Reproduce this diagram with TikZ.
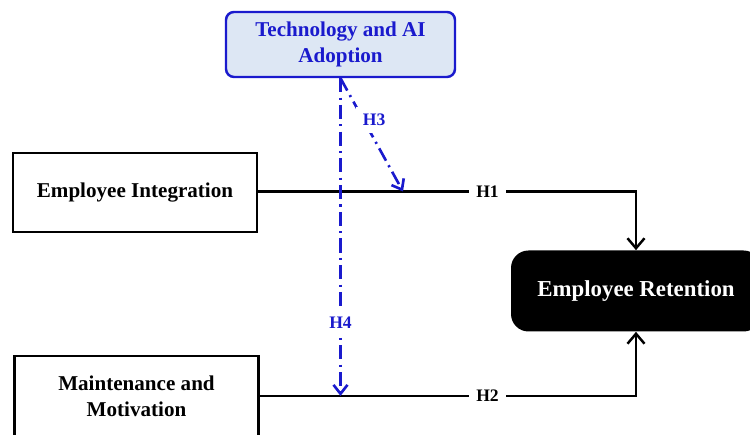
\documentclass[tikz,border=0pt]{standalone}
\usepackage{fontspec}
\setmainfont{Liberation Serif}
\usepackage{tikz}
\usetikzlibrary{arrows.meta,positioning}
\definecolor{ModBlue}{HTML}{1A1ACD}
\definecolor{ModFill}{HTML}{DDE7F4}

\begin{document}
\begin{tikzpicture}[
  construct/.style={draw=black, line width=1.4pt, minimum width=4.88cm, minimum height=1.58cm,
    align=center, font=\fontsize{12}{15}\selectfont\bfseries},
  hlabel/.style={inner sep=4pt, font=\fontsize{10}{12}\selectfont\bfseries},
  effect/.style={line width=1.4pt, -{Straight Barb[length=2mm,width=3.4mm]}},
  moderate/.style={ModBlue, line width=1.5pt, dash pattern=on 8pt off 3pt on 1.2pt off 3pt,
    -{Straight Barb[length=1.8mm,width=2.8mm]}}]
  \useasboundingbox (0,0) rectangle (15,8.7);
  % constructs
  \node[construct] (ei) at (2.70,4.85) {Employee Integration};
  \node[construct, minimum height=1.6cm] (mm) at (2.73,0.78) {Maintenance and\\Motivation};
  \node[draw=ModBlue, fill=ModFill, line width=1.4pt, rounded corners=0.16cm,
    minimum width=4.58cm, minimum height=1.3cm, text=ModBlue, align=center,
    font=\fontsize{12}{15}\selectfont\bfseries] (tech) at (6.81,7.81) {Technology and AI\\Adoption};
  \node[fill=black, text=white, rounded corners=0.35cm, minimum width=5cm, minimum height=1.62cm,
    font=\fontsize{13}{16}\selectfont\bfseries] (er) at (12.72,2.88) {Employee Retention};
  \node[hlabel] (h1) at (9.75,4.87) {H1};
  \node[hlabel] (h2) at (9.75,0.78) {H2};
  % direct effects
  \draw[line width=1.4pt] (ei.east |- h1) -- (h1.west);
  \draw[effect] (h1.east) -| (er.north);
  \draw[line width=1.4pt] (mm.east) -- (h2.west);
  \draw[effect] (h2.east) -| (er.south);
  % moderating effects
  \coordinate (m1) at (8.06,4.87);
  \coordinate (m2) at (tech.south |- mm.east);
  \draw[moderate] (tech.south) -- node[hlabel, pos=0.37, xshift=6pt, fill=white, text=ModBlue] (h3) {H3} (m1);
  \draw[moderate] (tech.south) -- node[hlabel, pos=0.77, fill=white, text=ModBlue] (h4) {H4} (m2);
\end{tikzpicture}
\end{document}
